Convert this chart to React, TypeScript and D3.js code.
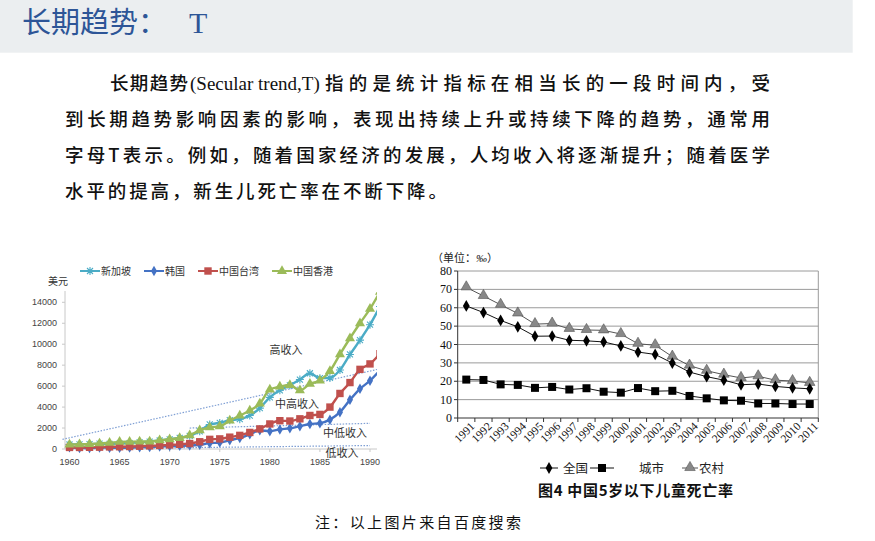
import React from 'react';
import * as d3 from 'd3';

// 左图：人均收入（美元），1960-1991
const gdpYears = [1960, 1961, 1962, 1963, 1964, 1965, 1966, 1967, 1968, 1969, 1970, 1971, 1972, 1973, 1974, 1975,
  1976, 1977, 1978, 1979, 1980, 1981, 1982, 1983, 1984, 1985, 1986, 1987, 1988, 1989, 1990, 1991];
const singapore = [430, 450, 470, 510, 490, 520, 570, 630, 710, 810, 925, 1070, 1260, 1690, 2340, 2490,
  2750, 2850, 3190, 3900, 4930, 5600, 6080, 6630, 7230, 6760, 6780, 7540, 9020, 10390, 11860, 13600];
const korea = [160, 95, 105, 145, 125, 110, 135, 160, 200, 245, 280, 300, 325, 405, 560, 615,
  835, 1055, 1405, 1780, 1700, 1870, 1980, 2180, 2390, 2460, 2800, 3510, 4690, 5740, 6520, 7520];
const taiwan = [150, 150, 160, 175, 200, 215, 235, 265, 300, 340, 390, 445, 520, 690, 920, 965,
  1130, 1300, 1580, 1920, 2390, 2700, 2670, 2880, 3200, 3300, 4000, 5300, 6340, 7600, 8120, 9100];
const hongkong = [430, 445, 475, 530, 590, 680, 695, 715, 715, 825, 925, 1050, 1305, 1785, 2060, 2160,
  2710, 3190, 3670, 4330, 5670, 5950, 6110, 5590, 6210, 6540, 7440, 9040, 10570, 12000, 13370, 15000];
const gdpTicks = [0, 2000, 4000, 6000, 8000, 10000, 12000, 14000];
const gdpYearTicks = [1960, 1965, 1970, 1975, 1980, 1985, 1990];
// 收入分组参考线 [年份, 美元]
const highLine: [number, number][] = [[1959.3, 920], [1991, 7650]];
const midLine: [number, number][] = [[1972, 2000], [1990, 2450]];
const lowLine: [number, number][] = [[1960, 0], [1990, 330]];

// 右图：中国5岁以下儿童死亡率（‰）
const rateYears = ['1991', '1992', '1993', '1994', '1995', '1996', '1997', '1998', '1999', '2000', '2001',
  '2002', '2003', '2004', '2005', '2006', '2007', '2008', '2009', '2010', '2011'];
const national = [61.0, 57.4, 53.1, 49.6, 44.5, 44.6, 42.3, 42.0, 41.4, 39.2, 35.9, 34.6, 29.9, 25.0, 22.5, 20.6, 18.1, 18.5, 17.2, 16.4, 15.9];
const urban = [20.9, 20.7, 18.3, 18.0, 16.4, 16.9, 15.5, 16.2, 14.3, 13.8, 16.3, 14.6, 14.8, 12.0, 10.7, 9.6, 9.4, 7.9, 7.9, 7.6, 7.6];
const rural = [71.1, 66.4, 61.6, 56.9, 51.1, 51.4, 48.5, 47.9, 47.7, 45.7, 40.4, 39.6, 33.4, 28.5, 25.7, 23.6, 21.8, 22.7, 20.6, 20.1, 19.1];
const rateTicks = [0, 10, 20, 30, 40, 50, 60, 70, 80];

const CJK = '"Noto Sans CJK SC", sans-serif';
const SERIF = '"Liberation Serif", "DejaVu Serif", serif';
const SANS = '"Liberation Sans", Arial, sans-serif';

const markerPath = {
  star: 'M-4,0H4M0,-4V4M-3,-3L3,3M-3,3L3,-3',
  diamond: d3.symbol(d3.symbolDiamond, 32)() as string,
  square: 'M-3.7,-3.7H3.7V3.7H-3.7Z',
  triangle: d3.symbol(d3.symbolTriangle, 44)() as string,
};

const leftSeries = [
  { name: '新加坡', values: singapore, color: '#4BACC6', marker: 'star' },
  { name: '韩国', values: korea, color: '#4472C4', marker: 'diamond' },
  { name: '中国台湾', values: taiwan, color: '#C0504D', marker: 'square' },
  { name: '中国香港', values: hongkong, color: '#9BBB59', marker: 'triangle' },
];

const LeftChart = () => {
  const x = d3.scaleLinear().domain([1960, 1990]).range([69.5, 370]);
  const y = d3.scaleLinear().domain([0, 14000]).range([449, 302.3]);
  const line = d3.line<number>()
    .x((d, i) => x(gdpYears[i]))
    .y(d => y(d))
    .curve(d3.curveMonotoneX);
  const straight = d3.line<[number, number]>().x(d => x(d[0])).y(d => y(d[1]));
  const legendX = [80, 144, 198, 272];

  const mark = (s: typeof leftSeries[number], cx: number, cy: number, key: any) => {
    const t = `translate(${cx},${cy})`;
    if (s.marker === 'star') {
      return <path key={key} d={markerPath.star} transform={t} stroke={s.color} strokeWidth={1.1} fill="none" />;
    }
    return <path key={key} d={(markerPath as any)[s.marker]} transform={t} fill={s.color} />;
  };

  return (
    <g>
      <defs>
        <clipPath id="leftClip">
          <rect x={55} y={285} width={322} height={175} />
        </clipPath>
      </defs>
      {/* 图例 */}
      {leftSeries.map((s, i) => (
        <g key={s.name}>
          <line x1={legendX[i]} x2={legendX[i] + 20} y1={271} y2={271} stroke={s.color} strokeWidth={2} />
          {mark(s, legendX[i] + 10, 271, 'lg')}
          <text x={legendX[i] + 21} y={274.5} fontSize={10} fontFamily={CJK} fill="#333">{s.name}</text>
        </g>
      ))}
      <text x={48} y={285} fontSize={10} fontFamily={CJK} fill="#333">美元</text>
      {/* 坐标轴 */}
      <line x1={65} x2={65} y1={291} y2={449} stroke="#c8c8c8" />
      <line x1={65} x2={377} y1={449} y2={449} stroke="#c8c8c8" />
      {gdpTicks.map(t => (
        <g key={t}>
          <line x1={62} x2={65} y1={y(t)} y2={y(t)} stroke="#c8c8c8" />
          <text x={57} y={y(t) + 3} fontSize={9} textAnchor="end" fontFamily={SANS} fill="#444">{t}</text>
        </g>
      ))}
      {gdpYearTicks.map(t => (
        <g key={t}>
          <line x1={x(t)} x2={x(t)} y1={449} y2={452} stroke="#c8c8c8" />
          <text x={x(t)} y={465} fontSize={9} textAnchor="middle" fontFamily={SANS} fill="#444">{t}</text>
        </g>
      ))}
      {/* 收入分组参考线 */}
      <g clipPath="url(#leftClip)">
        {[highLine, midLine, lowLine].map((l, i) => (
          <path key={i} d={straight(l) as string} stroke="#7f9fd4" strokeWidth={1.2} strokeDasharray="1.5 1.5" fill="none" />
        ))}
        {leftSeries.map(s => (
          <g key={s.name}>
            <path d={line(s.values) as string} fill="none" stroke={s.color} strokeWidth={2.4} />
            {s.values.map((v, i) => mark(s, x(gdpYears[i]), y(v), i))}
          </g>
        ))}
      </g>
      <g fontFamily={CJK} fontSize={11} fill="#333" textAnchor="middle">
        <text x={286} y={354}>高收入</text>
        <text x={297} y={408}>中高收入</text>
        <text x={345} y={437}>中低收入</text>
        <text x={342} y={457}>低收入</text>
      </g>
    </g>
  );
};

const RightChart = () => {
  const x = d3.scaleBand().domain(rateYears).range([457.7, 818.3]);
  const y = d3.scaleLinear().domain([0, 80]).range([418, 271]);
  const cx = (i: number) => (x(rateYears[i]) as number) + x.bandwidth() / 2;
  const line = d3.line<number>().x((d, i) => cx(i)).y(d => y(d));
  const diamond = d3.symbol(d3.symbolDiamond, 40)() as string;
  const triangle = d3.symbol(d3.symbolTriangle, 48)() as string;
  const square = 'M-4,-4H4V4H-4Z';

  return (
    <g>
      <text x={432} y={262} fontSize={11} fontFamily={CJK} fill="#222">（单位：<tspan fontFamily={SERIF} fontStyle="italic">‰</tspan>）</text>
      {rateTicks.map(t => (
        <g key={t}>
          {t > 0 && <line x1={457.7} x2={818.3} y1={y(t)} y2={y(t)} stroke="#9a9a9a" />}
          <line x1={454} x2={457.7} y1={y(t)} y2={y(t)} stroke="#333" />
          <text x={452} y={y(t) + 4} fontSize={12} textAnchor="end" fontFamily={SERIF} fill="#111">{t}</text>
        </g>
      ))}
      <line x1={818.3} x2={818.3} y1={271} y2={418} stroke="#9a9a9a" />
      <line x1={457.7} x2={457.7} y1={271} y2={418} stroke="#333" />
      <line x1={457.7} x2={818.3} y1={418} y2={418} stroke="#333" />
      {rateYears.map((yr, i) => (
        <g key={yr}>
          <line x1={x(yr) as number} x2={x(yr) as number} y1={418} y2={422} stroke="#333" />
          <text transform={`translate(${cx(i) + 9},${427}) rotate(-45)`} fontSize={11.5}
            textAnchor="end" fontFamily={SERIF} fill="#111">{yr}</text>
        </g>
      ))}
      <line x1={818.3} x2={818.3} y1={418} y2={422} stroke="#333" />
      {/* 数据线 */}
      <path d={line(rural) as string} fill="none" stroke="#555" strokeWidth={1} />
      <path d={line(national) as string} fill="none" stroke="#111" strokeWidth={1} />
      <path d={line(urban) as string} fill="none" stroke="#111" strokeWidth={1} />
      {rural.map((v, i) => (
        <path key={'r' + i} d={triangle} transform={`translate(${cx(i)},${y(v) - 0.5})`} fill="#888" stroke="#555" strokeWidth={0.6} />
      ))}
      {national.map((v, i) => (
        <path key={'n' + i} d={diamond} transform={`translate(${cx(i)},${y(v)})`} fill="#000" />
      ))}
      {urban.map((v, i) => (
        <path key={'u' + i} d={square} transform={`translate(${cx(i)},${y(v)})`} fill="#000" />
      ))}
      {/* 图例 */}
      <g fontFamily={CJK} fontSize={12.5} fill="#222">
        <line x1={540} x2={558} y1={468} y2={468} stroke="#111" />
        <path d={diamond} transform="translate(549,468)" fill="#000" />
        <text x={563} y={472.5}>全国</text>
        <line x1={590} x2={614} y1={468} y2={468} stroke="#111" />
        <path d={square} transform="translate(602,468)" fill="#000" />
        <text x={639} y={472.5}>城市</text>
        <line x1={682} x2={698} y1={468} y2={468} stroke="#555" />
        <path d={triangle} transform="translate(690,467.5)" fill="#888" stroke="#555" strokeWidth={0.6} />
        <text x={699} y={472.5}>农村</text>
      </g>
      <text x={538} y={495.5} fontSize={15} fontWeight="bold" fontFamily={CJK} fill="#111"
        textLength={195} lengthAdjust="spacing">图4 中国5岁以下儿童死亡率</text>
    </g>
  );
};

const App = () => {
  return (
    <svg width={875} height={541} style={{ position: 'absolute', left: 0, top: 0, background: '#fff' }}>
      <rect x={0} y={0} width={852.7} height={52.7} fill="#ebeef0" />
      <text x={22} y={33} fontSize={29} fontFamily={CJK} fill="#2d5597">长期趋势：</text>
      <text x={189} y={33} fontSize={30} fontFamily={SERIF} fill="#2d5597">T</text>
      <g fontFamily={CJK} fontSize={18.5} fontWeight={500} fill="#111">
        <text x={110} y={90} textLength={78} lengthAdjust="spacing">长期趋势</text>
        <text x={190} y={90} fontFamily={SERIF} fontWeight={400} fontSize={19}>(Secular trend,T)</text>
        <text x={325} y={90} textLength={445} lengthAdjust="spacing">指的是统计指标在相当长的一段时间内，受</text>
        <text x={65} y={126} textLength={705} lengthAdjust="spacing">到长期趋势影响因素的影响，表现出持续上升或持续下降的趋势，通常用</text>
        <text x={65} y={162} textLength={705} lengthAdjust="spacing">字母T表示。例如，随着国家经济的发展，人均收入将逐渐提升；随着医学</text>
        <text x={65} y={198} textLength={382} lengthAdjust="spacing">水平的提高，新生儿死亡率在不断下降。</text>
      </g>
      <LeftChart />
      <RightChart />
      <text x={315} y={528} fontSize={15} fontFamily={CJK} fill="#111" textLength={206} lengthAdjust="spacing">注：以上图片来自百度搜索</text>
    </svg>
  );
};

export default App;
